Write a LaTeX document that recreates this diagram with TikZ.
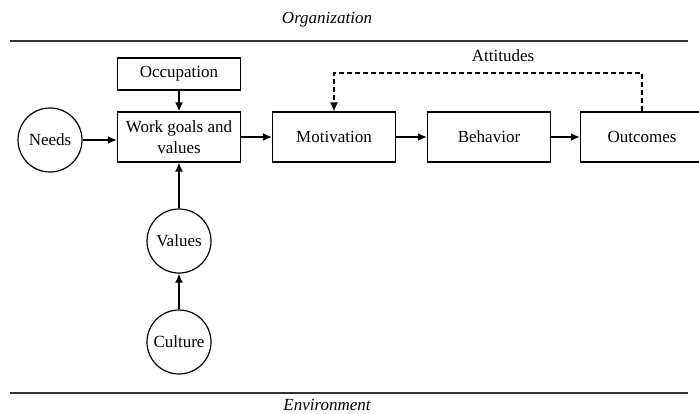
\documentclass[tikz,border=0pt]{standalone}
\usepackage{fontspec}
\setmainfont{Liberation Serif}
\usetikzlibrary{arrows.meta}

\begin{document}
\begin{tikzpicture}[x=1pt,y=-1pt,
    font=\fontsize{17}{21}\selectfont,
    box/.style={draw,line width=1.2pt,minimum width=123pt,minimum height=50pt,inner sep=2pt,align=center},
    circ/.style={draw,circle,line width=1.2pt,minimum size=64pt,inner sep=1pt},
    arr/.style={-{Latex[length=9pt,width=8pt]},line width=1.6pt},
    frame/.style={line width=1.1pt,draw=black!80}]
  % Canvas
  \useasboundingbox (0,0) rectangle (699,413);
  \clip (0,0) rectangle (699,413);

  % Organization and environment
  \node[font=\fontsize{17}{21}\selectfont\itshape] (org) at (327,20) {Organization};
  \coordinate (orgL) at (10,41);
  \coordinate (orgR) at (688,41);
  \draw[frame] (orgL) -- (orgR);
  \node[font=\fontsize{17}{21}\selectfont\itshape] (env) at (327,405) {Environment};
  \coordinate (envL) at (10,393);
  \coordinate (envR) at (688,393);
  \draw[frame] (envL) -- (envR);

  % Boxes
  \node[box,minimum height=32pt] (occupation) at (179,74) {Occupation};
  \node[box] (goals) at (179,137) {Work goals and\\values};
  \node[box] (motivation) at (334,137) {Motivation};
  \node[box] (behavior) at (489,137) {Behavior};
  \node[box] (outcomes) at (642,137) {Outcomes};

  % Circles
  \node[circ] (needs) at (50,140) {Needs};
  \node[circ] (values) at (179,241) {Values};
  \node[circ] (culture) at (179,342) {Culture};

  % Arrows
  \draw[arr] (needs.east) -- (needs.east -| goals.west);
  \draw[arr] (occupation) -- (goals);
  \draw[arr] (values) -- (goals);
  \draw[arr] (culture) -- (values);
  \draw[arr] (goals) -- (motivation);
  \draw[arr] (motivation) -- (behavior);
  \draw[arr] (behavior) -- (outcomes);

  % Feedback loop
  \node (att) at (503,56) {Attitudes};
  \coordinate (loop) at (500,73);
  \draw[dash pattern=on 5pt off 3pt,line width=1.3pt,-{Latex[length=9pt,width=8pt]}] (outcomes.north) |- (loop) -| (motivation.north);
\end{tikzpicture}
\end{document}
